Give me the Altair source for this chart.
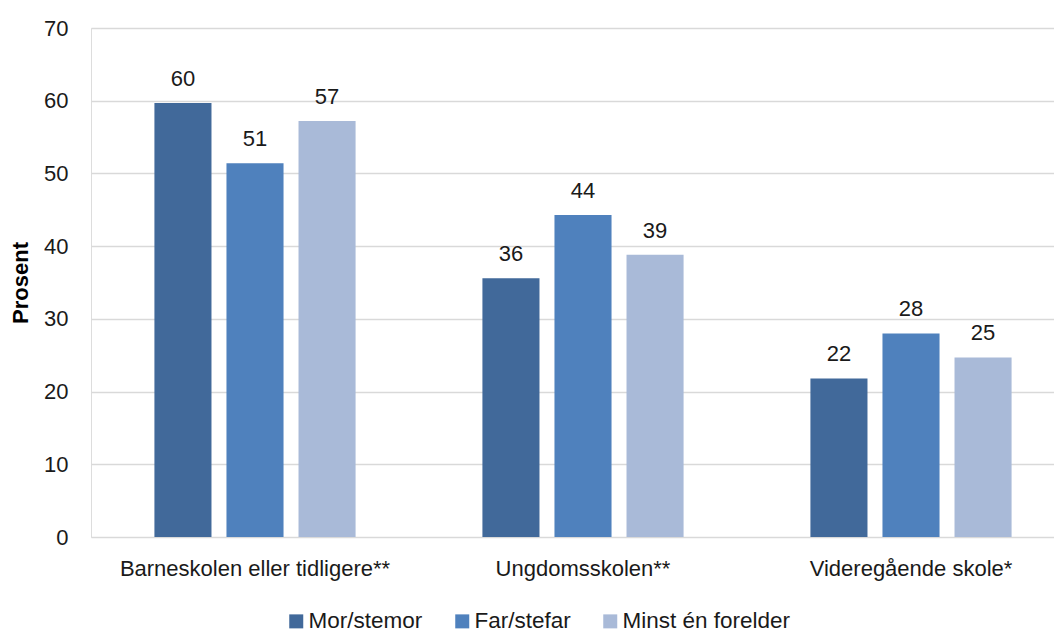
import altair as alt
import pandas as pd

categories = ["Barneskolen eller tidligere**", "Ungdomsskolen**", "Videregående skole*"]
series = ["Mor/stemor", "Far/stefar", "Minst én forelder"]
mor = [59.7, 35.6, 21.8]
far = [51.4, 44.3, 28.0]
minst = [57.2, 38.8, 24.7]
colors = ["#41699A", "#4F81BD", "#A9BAD8"]
y_ticks = [0, 10, 20, 30, 40, 50, 60, 70]

rows = []
for s, vals in zip(series, [mor, far, minst]):
    for c, v in zip(categories, vals):
        rows.append({"Skole": c, "Gruppe": s, "Prosent": v})
df = pd.DataFrame(rows)

FONT = "Liberation Sans"

x_enc = alt.X(
    "Skole:N",
    sort=categories,
    scale=alt.Scale(range=[0, 984], paddingInner=0.341, paddingOuter=0.1705),
    axis=alt.Axis(title=None, labelAngle=0, ticks=False, domain=False, grid=False,
                  labelPadding=21, labelFontSize=22, labelColor="#1a1a1a", labelFont=FONT,
                  labelLimit=0, labelOverlap=False),
)
xo_enc = alt.XOffset("Gruppe:N", sort=series,
                     scale=alt.Scale(paddingInner=0.208, paddingOuter=0.104))
y_enc = alt.Y(
    "Prosent:Q",
    scale=alt.Scale(domain=[0, 70], nice=False),
    axis=alt.Axis(values=y_ticks, title="Prosent", ticks=False, domain=False,
                  labelPadding=23, labelFontSize=22, labelColor="#1a1a1a", labelFont=FONT,
                  gridColor="#D9D9D9", gridWidth=1.3,
                  titleFontSize=22, titleFontWeight="bold", titleFont=FONT, titleColor="#000000",
                  titleAngle=-90, titleX=-59, titleY=254.5, titleAlign="center",
                  titleBaseline="bottom"),
)

bars = alt.Chart(df).mark_bar().encode(
    x=x_enc,
    xOffset=xo_enc,
    y=y_enc,
    color=alt.Color(
        "Gruppe:N", sort=series,
        scale=alt.Scale(domain=series, range=colors),
        legend=alt.Legend(title=None, orient="none", legendX=194, legendY=582,
                          direction="horizontal", symbolType="square", symbolSize=196,
                          symbolStrokeWidth=0, labelFontSize=22.5, labelFont=FONT,
                          labelColor="#1a1a1a", columnPadding=28, labelOffset=1, padding=0,
                          labelLimit=0),
    ),
)

labels = alt.Chart(df).mark_text(
    dy=-17, baseline="alphabetic", fontSize=22, font=FONT, color="#1a1a1a"
).encode(
    x=alt.X("Skole:N", sort=categories),
    xOffset=alt.XOffset("Gruppe:N", sort=series),
    y=alt.Y("Prosent:Q"),
    text=alt.Text("Prosent:Q", format=".0f"),
)

chart = alt.layer(bars, labels).properties(
    width=963, height=509,
    padding={"left": 83, "top": 20, "right": 0, "bottom": 98},
    autosize=alt.AutoSizeParams(type="none"),
).configure_view(stroke=None).configure(background="white")

chart.save("out.html", embed_options={"renderer": "svg", "actions": False})
